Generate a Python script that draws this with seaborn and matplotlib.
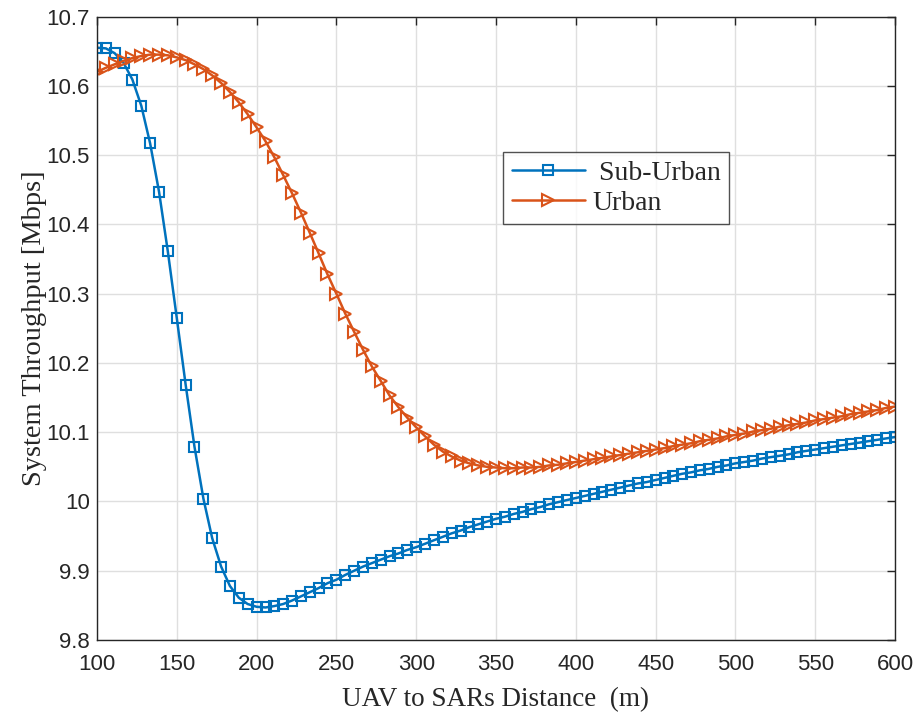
import numpy as np
import pandas as pd
import matplotlib
matplotlib.use("Agg")
import matplotlib.pyplot as plt
import seaborn as sns

# ---- data ----
distance = [100.0, 105.6, 111.1, 116.7, 122.2, 127.8, 133.3, 138.9, 144.4, 150.0,
            155.6, 161.1, 166.7, 172.2, 177.8, 183.3, 188.9, 194.4, 200.0, 205.6,
            211.1, 216.7, 222.2, 227.8, 233.3, 238.9, 244.4, 250.0, 255.6, 261.1,
            266.7, 272.2, 277.8, 283.3, 288.9, 294.4, 300.0, 305.6, 311.1, 316.7,
            322.2, 327.8, 333.3, 338.9, 344.4, 350.0, 355.6, 361.1, 366.7, 372.2,
            377.8, 383.3, 388.9, 394.4, 400.0, 405.6, 411.1, 416.7, 422.2, 427.8,
            433.3, 438.9, 444.4, 450.0, 455.6, 461.1, 466.7, 472.2, 477.8, 483.3,
            488.9, 494.4, 500.0, 505.6, 511.1, 516.7, 522.2, 527.8, 533.3, 538.9,
            544.4, 550.0, 555.6, 561.1, 566.7, 572.2, 577.8, 583.3, 588.9, 594.4,
            600.0]

sub_urban = [10.655, 10.654, 10.647, 10.633, 10.609, 10.571, 10.517, 10.447, 10.361, 10.265,
             10.168, 10.079, 10.004, 9.947, 9.906, 9.878, 9.861, 9.852, 9.848, 9.847,
             9.849, 9.852, 9.857, 9.863, 9.869, 9.875, 9.882, 9.887, 9.894, 9.900,
             9.906, 9.911, 9.916, 9.921, 9.925, 9.930, 9.934, 9.939, 9.944, 9.949,
             9.954, 9.958, 9.963, 9.967, 9.971, 9.975, 9.978, 9.982, 9.985, 9.989,
             9.992, 9.996, 9.999, 10.002, 10.005, 10.008, 10.011, 10.014, 10.017, 10.020,
             10.023, 10.026, 10.028, 10.031, 10.034, 10.037, 10.040, 10.042, 10.045, 10.047,
             10.050, 10.052, 10.055, 10.057, 10.059, 10.062, 10.064, 10.066, 10.068, 10.071,
             10.073, 10.075, 10.077, 10.079, 10.081, 10.083, 10.085, 10.087, 10.089, 10.091,
             10.093]

urban = [10.620, 10.626, 10.631, 10.636, 10.640, 10.643, 10.645, 10.645, 10.644, 10.641,
         10.637, 10.631, 10.624, 10.615, 10.604, 10.591, 10.576, 10.559, 10.540, 10.520,
         10.497, 10.471, 10.445, 10.417, 10.388, 10.358, 10.328, 10.300, 10.271, 10.245,
         10.219, 10.195, 10.174, 10.153, 10.136, 10.121, 10.107, 10.094, 10.082, 10.072,
         10.065, 10.059, 10.055, 10.052, 10.050, 10.049, 10.048, 10.048, 10.049, 10.049,
         10.050, 10.052, 10.053, 10.055, 10.057, 10.059, 10.061, 10.063, 10.065, 10.067,
         10.069, 10.071, 10.073, 10.075, 10.077, 10.080, 10.082, 10.084, 10.087, 10.089,
         10.091, 10.094, 10.096, 10.098, 10.101, 10.103, 10.105, 10.108, 10.110, 10.112,
         10.114, 10.117, 10.119, 10.121, 10.123, 10.126, 10.128, 10.130, 10.132, 10.135,
         10.137]

x_ticks = [100, 150, 200, 250, 300, 350, 400, 450, 500, 550, 600]
x_tick_labels = ["100", "150", "200", "250", "300", "350", "400", "450", "500", "550", "600"]
y_ticks = [9.8, 9.9, 10.0, 10.1, 10.2, 10.3, 10.4, 10.5, 10.6, 10.7]
y_tick_labels = ["9.8", "9.9", "10", "10.1", "10.2", "10.3", "10.4", "10.5", "10.6", "10.7"]
series_names = [" Sub-Urban", "Urban"]

# ---- plotting ----
sns.set_style("white")
plt.rcParams['font.family'] = ['Liberation Sans', 'DejaVu Sans']

fig = plt.figure(figsize=(9.19, 7.18), dpi=100)
ax = fig.add_axes([0.1055, 0.1086, 0.8684, 0.8684])

blue = "#0072BD"
orange = "#D95319"

sns.lineplot(x=distance, y=sub_urban, ax=ax, color=blue, linewidth=1.8,
             marker="s", markersize=7, markerfacecolor="none",
             markeredgecolor=blue, markeredgewidth=1.5, label=series_names[0])
sns.lineplot(x=distance, y=urban, ax=ax, color=orange, linewidth=1.8,
             marker=">", markersize=8.5, markerfacecolor="none",
             markeredgecolor=orange, markeredgewidth=1.5, label=series_names[1])

ax.set_xlim(100, 600)
ax.set_ylim(9.8, 10.7)
ax.set_xticks(x_ticks)
ax.set_xticklabels(x_tick_labels)
ax.set_yticks(y_ticks)
ax.set_yticklabels(y_tick_labels)

ax.grid(True, color="#dfdfdf", linewidth=1.0)
ax.set_axisbelow(True)
for s in ax.spines.values():
    s.set_visible(True)
    s.set_color("#262626")
    s.set_linewidth(1.0)

ax.tick_params(axis="both", which="both", direction="in", length=6, width=1.0,
               colors="#262626", top=True, right=True, labelsize=16)
ax.tick_params(axis="x", pad=10)
ax.tick_params(axis="y", pad=5)
for lab in ax.get_xticklabels() + ax.get_yticklabels():
    lab.set_color("#262626")

ax.set_xlabel("UAV to SARs Distance  (m)", family=["Liberation Serif"], fontsize=19.5,
              color="#262626", labelpad=9)
ax.set_ylabel("System Throughput [Mbps]", family=["Liberation Serif"], fontsize=20.5,
              color="#262626", labelpad=0)

leg = ax.legend(loc="upper left", bbox_to_anchor=(0.509, 0.782), frameon=True,
                fancybox=False, prop={"family": "Liberation Serif", "size": 20},
                handlelength=2.65, handletextpad=0.25, borderpad=0.3,
                labelspacing=0.15, borderaxespad=0.0)
leg.get_frame().set_edgecolor("#262626")
leg.get_frame().set_linewidth(1.0)

fig.savefig("out.png", dpi=100)
